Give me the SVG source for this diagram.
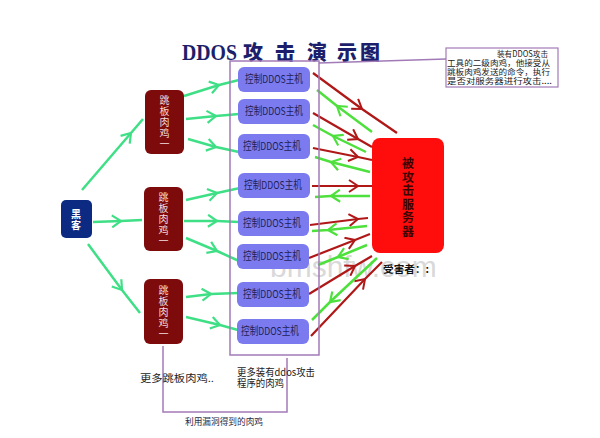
<svg xmlns="http://www.w3.org/2000/svg" width="600" height="438" viewBox="0 0 600 438">
<defs>
<style>
.cjk{font-family:"Noto Sans CJK SC","Liberation Sans",sans-serif}
.host rect{fill:#7b7bef}
.host text{font-size:11px;fill:#1e1e55;text-anchor:start}
.jump rect{fill:#7d0b0b}
.jump text{font-size:10px;fill:#f4dede;text-anchor:middle}
.lg{fill:none;stroke:#3fdf86;stroke-width:2.5;marker-mid:url(#aG)}
.rg{fill:none;stroke:#4ee03c;stroke-width:2.5;marker-mid:url(#aG2)}
.rr{fill:none;stroke:#b01818;stroke-width:2.2;marker-mid:url(#aR)}
.pur{fill:none;stroke:#a27ab8;stroke-width:1.5}
.note{font-size:8.3px;fill:#222}
.lbl{font-size:10px;fill:#222}
</style>
<marker id="aG" viewBox="0 0 12 14" refX="10" refY="7" markerWidth="12" markerHeight="14" markerUnits="userSpaceOnUse" orient="auto"><path d="M1,1 L10,7 L1,13" fill="none" stroke="#3fdf86" stroke-width="2.2"/></marker>
<marker id="aG2" viewBox="0 0 12 14" refX="10" refY="7" markerWidth="12" markerHeight="14" markerUnits="userSpaceOnUse" orient="auto"><path d="M1,1 L10,7 L1,13" fill="none" stroke="#4ee03c" stroke-width="2.2"/></marker>
<marker id="aR" viewBox="0 0 12 14" refX="10" refY="7" markerWidth="12" markerHeight="14" markerUnits="userSpaceOnUse" orient="auto"><path d="M1,1 L10,7 L1,13" fill="none" stroke="#b01818" stroke-width="2"/></marker>
</defs>
<rect width="600" height="438" fill="#ffffff"/>

<!-- title -->
<g id="title" fill="#1c1f6b" font-weight="bold">
<text x="182" y="60" font-family="Liberation Serif,serif" font-size="24" textLength="55" lengthAdjust="spacingAndGlyphs">DDOS</text>
<text class="cjk" y="60" font-size="20" font-weight="900" text-anchor="middle"><tspan x="253">攻</tspan><tspan x="285">击</tspan><tspan x="317">演</tspan><tspan x="347">示</tspan><tspan x="370">图</tspan></text>
</g>

<!-- watermark -->
<text x="270" y="277" font-family="Liberation Sans,sans-serif" font-size="30" fill="#c8c8c8" fill-opacity="0.7">bmshfw.com</text>

<g id="connectors">
<path class="lg" d="M82,190 L131,133 L143,119"/>
<path class="lg" d="M93,222 L121,221 L142,220"/>
<path class="lg" d="M88,244 L122,290 L140,313"/>
<path class="lg" d="M184,96 L219,85 L239,80"/>
<path class="lg" d="M186,119 L216,116 L239,114"/>
<path class="lg" d="M188,139 L216,147 L239,152"/>
<path class="lg" d="M186,200 L217,193 L240,188"/>
<path class="lg" d="M184,221 L217,221 L239,222"/>
<path class="lg" d="M186,238 L217,251 L239,261"/>
<path class="lg" d="M186,297 L211,294 L238,293"/>
<path class="lg" d="M186,317 L220,325 L238,330"/>
<path class="rr" d="M313,73 L362,109 L397,133"/>
<path class="rr" d="M313,113 L358,139 L372,147"/>
<path class="rr" d="M313,148 L358,157 L372,160"/>
<path class="rr" d="M312,186 L358,186 L372,186"/>
<path class="rr" d="M310,225 L358,219 L368,218"/>
<path class="rr" d="M309,258 L355,240 L370,234"/>
<path class="rr" d="M309,294 L355,266 L372,256"/>
<path class="rr" d="M311,336 L365,279 L382,262"/>
<path class="rg" d="M372,132 L337,106 L317,90"/>
<path class="rg" d="M366,152 L333,136 L313,125"/>
<path class="rg" d="M370,172 L331,162 L315,157"/>
<path class="rg" d="M370,196 L331,196 L315,197"/>
<path class="rg" d="M367,226 L328,230 L312,231"/>
<path class="rg" d="M367,245 L338,257 L318,265"/>
<path class="rg" d="M377,258 L330,302 L312,320"/>
<path class="pur" d="M319,63 L446,59"/>
<path class="pur" d="M163,346 L163,412 L287,412 L287,358"/>
</g>

<rect x="230" y="61" width="89" height="294" class="pur"/>

<g id="hacker">
<rect x="61" y="200" width="31" height="38" rx="5" fill="#0d2a82"/>
<text class="cjk" x="76" y="218" font-size="10" font-weight="bold" fill="#ffffff" text-anchor="middle">黑<tspan x="76" dy="11">客</tspan></text>
</g>

<g id="jump1" class="jump cjk">
<rect x="145" y="90" width="39" height="64" rx="6"/>
<text x="164.5" y="104">跳<tspan x="164.5" dy="11">板</tspan><tspan x="164.5" dy="11">肉</tspan><tspan x="164.5" dy="11">鸡</tspan><tspan x="164.5" dy="11">一</tspan></text>
</g>
<g id="jump2" class="jump cjk">
<rect x="144" y="187" width="39" height="64" rx="6"/>
<text x="163.5" y="201">跳<tspan x="163.5" dy="11">板</tspan><tspan x="163.5" dy="11">肉</tspan><tspan x="163.5" dy="11">鸡</tspan><tspan x="163.5" dy="11">一</tspan></text>
</g>
<g id="jump3" class="jump cjk">
<rect x="144" y="279" width="39" height="65" rx="6"/>
<text x="163.5" y="294">跳<tspan x="163.5" dy="11">板</tspan><tspan x="163.5" dy="11">肉</tspan><tspan x="163.5" dy="11">鸡</tspan><tspan x="163.5" dy="11">一</tspan></text>
</g>

<g id="host1" class="host cjk"><rect x="238" y="67" width="72" height="25" rx="6"/><text x="245" y="83" textLength="58" lengthAdjust="spacingAndGlyphs">控制DDOS主机</text></g>
<g id="host2" class="host cjk"><rect x="238" y="99" width="72" height="25" rx="6"/><text x="245" y="115" textLength="58" lengthAdjust="spacingAndGlyphs">控制DDOS主机</text></g>
<g id="host3" class="host cjk"><rect x="238" y="134" width="72" height="25" rx="6"/><text x="243" y="150" textLength="58" lengthAdjust="spacingAndGlyphs">控制DDOS主机</text></g>
<g id="host4" class="host cjk"><rect x="238" y="173" width="72" height="25" rx="6"/><text x="244" y="189" textLength="58" lengthAdjust="spacingAndGlyphs">控制DDOS主机</text></g>
<g id="host5" class="host cjk"><rect x="238" y="211" width="71" height="25" rx="6"/><text x="243" y="227" textLength="58" lengthAdjust="spacingAndGlyphs">控制DDOS主机</text></g>
<g id="host6" class="host cjk"><rect x="237" y="244" width="72" height="25" rx="6"/><text x="243" y="260" textLength="58" lengthAdjust="spacingAndGlyphs">控制DDOS主机</text></g>
<g id="host7" class="host cjk"><rect x="237" y="282" width="72" height="25" rx="6"/><text x="243" y="298" textLength="58" lengthAdjust="spacingAndGlyphs">控制DDOS主机</text></g>
<g id="host8" class="host cjk"><rect x="237" y="319" width="72" height="25" rx="6"/><text x="241" y="335" textLength="58" lengthAdjust="spacingAndGlyphs">控制DDOS主机</text></g>

<g id="server" class="cjk">
<rect x="372" y="138" width="72" height="115" rx="8" fill="#ff0c0c"/>
<text x="408" y="168" font-size="12" font-weight="bold" fill="#3a0404" text-anchor="middle">被<tspan x="408" dy="13.6">攻</tspan><tspan x="408" dy="13.6">击</tspan><tspan x="408" dy="13.6">服</tspan><tspan x="408" dy="13.6">务</tspan><tspan x="408" dy="13.6">器</tspan></text>
</g>
<text class="cjk" x="383" y="273" font-size="10" font-weight="bold" fill="#111" textLength="46" lengthAdjust="spacingAndGlyphs">受害者：:</text>

<g id="note" class="cjk">
<rect x="446" y="48" width="112" height="39" fill="#ffffff" stroke="#a27ab8" stroke-width="1.2"/>
<text class="note" x="497" y="57" textLength="51" lengthAdjust="spacingAndGlyphs">装有DDOS攻击</text>
<text class="note" x="447" y="65.5" textLength="103" lengthAdjust="spacingAndGlyphs">工具的二级肉鸡，他接受从</text>
<text class="note" x="447" y="74.5" textLength="103" lengthAdjust="spacingAndGlyphs">跳板肉鸡发送的命令，执行</text>
<text class="note" x="447" y="83.5" textLength="105" lengthAdjust="spacingAndGlyphs">是否对服务器进行攻击....</text>
</g>

<g id="labels" class="cjk">
<text class="lbl" x="140" y="382" textLength="74" lengthAdjust="spacingAndGlyphs">更多跳板肉鸡..</text>
<text class="lbl" x="237" y="376" textLength="78" lengthAdjust="spacingAndGlyphs">更多装有ddos攻击</text>
<text class="lbl" x="237" y="387" textLength="47" lengthAdjust="spacingAndGlyphs">程序的肉鸡</text>
<text x="185" y="425" font-size="9" fill="#2a2a44" textLength="78" lengthAdjust="spacingAndGlyphs">利用漏洞得到的肉鸡</text>
</g>
</svg>
